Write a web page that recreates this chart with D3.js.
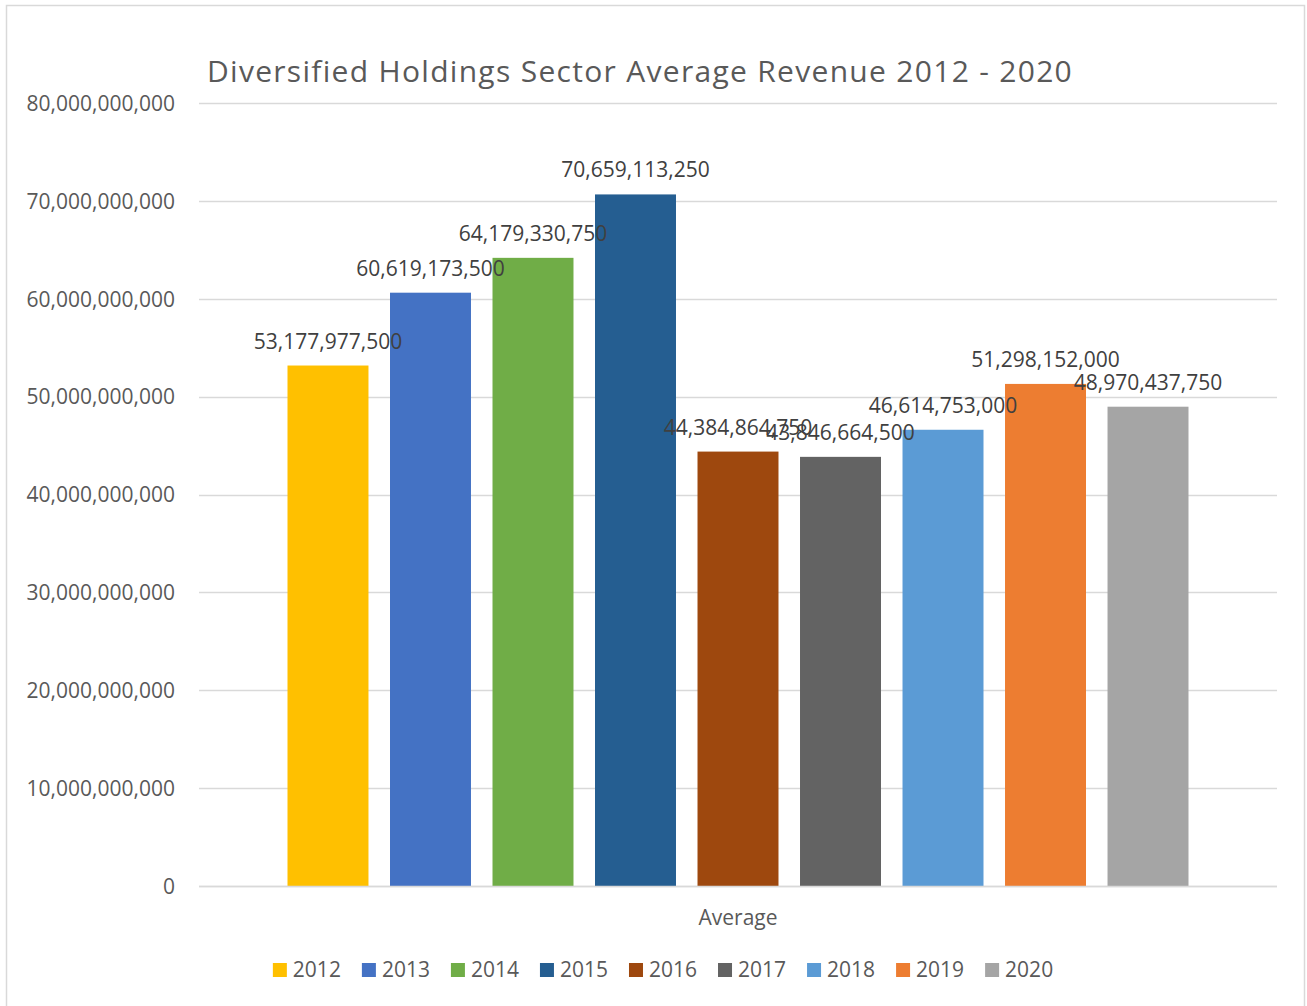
<!DOCTYPE html>
<html>
<head>
<meta charset="utf-8">
<title>Diversified Holdings Sector Average Revenue 2012 - 2020</title>
<script src="https://cdn.jsdelivr.net/npm/d3@7"></script>
<style>
  html, body { margin: 0; padding: 0; background: #ffffff; }
  svg { display: block; }
  text { font-family: "Open Sans", "Noto Sans", sans-serif; }
</style>
</head>
<body>
<svg id="chart" width="1307" height="1006"></svg>
<script>
// Years shown, one bar each, in the single "Average" category
const years = ["2012", "2013", "2014", "2015", "2016", "2017", "2018", "2019", "2020"];
const revenues = [53177977500, 60619173500, 64179330750, 70659113250, 44384864750, 43846664500, 46614753000, 51298152000, 48970437750];
const barColors = ["#FFC000", "#4472C4", "#70AD47", "#255E91", "#9E480E", "#636363", "#5B9BD5", "#ED7D31", "#A5A5A5"];
const yTicks = [0, 10000000000, 20000000000, 30000000000, 40000000000, 50000000000, 60000000000, 70000000000, 80000000000];
const categoryLabel = "Average";
const chartTitle = "Diversified Holdings Sector Average Revenue 2012 - 2020";

const W = 1307, H = 1006;
const plot = { left: 199, right: 1277, top: 103, bottom: 886 };

const svg = d3.select("#chart");
const fmt = d3.format(",");

// Outer frame
svg.append("rect")
  .attr("x", 6.5).attr("y", 5.5)
  .attr("width", 1298).attr("height", 1010)
  .attr("fill", "#ffffff")
  .attr("stroke", "#d9d9d9").attr("stroke-width", 1.5);

// Title
svg.append("text")
  .attr("x", 640).attr("y", 82)
  .attr("text-anchor", "middle")
  .attr("font-size", 30)
  .attr("letter-spacing", 1.3)
  .attr("fill", "#595959")
  .text(chartTitle);

const y = d3.scaleLinear().domain([0, 80000000000]).range([plot.bottom, plot.top]);

// Single category band, years clustered inside it
const cat = d3.scaleBand().domain([categoryLabel]).range([plot.left, plot.right]).paddingInner(0).paddingOuter(0);
const clusterInset = 88.5;
const x = d3.scaleBand()
  .domain(years)
  .range([cat(categoryLabel) + clusterInset, cat(categoryLabel) + cat.bandwidth() - clusterInset])
  .paddingInner(0.21)
  .paddingOuter(0);

// Gridlines
svg.append("g")
  .selectAll("line")
  .data(yTicks)
  .join("line")
  .attr("x1", plot.left).attr("x2", plot.right)
  .attr("y1", d => Math.round(y(d)) + 0.5).attr("y2", d => Math.round(y(d)) + 0.5)
  .attr("stroke", "#d9d9d9").attr("stroke-width", 1.5);

// Y axis labels
const yAxis = d3.axisLeft(y).tickValues(yTicks).tickFormat(fmt).tickSize(0).tickPadding(0);
const yg = svg.append("g")
  .attr("transform", `translate(175,0)`)
  .call(yAxis);
yg.select(".domain").remove();
yg.selectAll("text")
  .attr("font-family", "'Open Sans', sans-serif")
  .attr("font-size", 21)
  .attr("fill", "#595959")
  .attr("dy", "0.35em");

// Bars
const data = years.map((yr, i) => ({ year: yr, value: revenues[i], color: barColors[i] }));
svg.append("g")
  .selectAll("rect")
  .data(data)
  .join("rect")
  .attr("x", d => x(d.year))
  .attr("width", x.bandwidth())
  .attr("y", d => y(d.value))
  .attr("height", d => y(0) - y(d.value))
  .attr("fill", d => d.color);

// Baseline redrawn on top of bars
svg.append("line")
  .attr("x1", plot.left).attr("x2", plot.right)
  .attr("y1", Math.round(y(0)) + 0.5).attr("y2", Math.round(y(0)) + 0.5)
  .attr("stroke", "#d9d9d9").attr("stroke-width", 1.5);

// Value labels
svg.append("g")
  .selectAll("text")
  .data(data)
  .join("text")
  .attr("x", d => x(d.year) + x.bandwidth() / 2)
  .attr("y", d => y(d.value) - 17)
  .attr("text-anchor", "middle")
  .attr("font-size", 21)
  .attr("fill", "#404040")
  .text(d => fmt(d.value));

// Category label
svg.append("text")
  .attr("x", cat(categoryLabel) + cat.bandwidth() / 2)
  .attr("y", 925)
  .attr("text-anchor", "middle")
  .attr("font-size", 21)
  .attr("fill", "#595959")
  .text(categoryLabel);

// Legend
const legend = svg.append("g");
const items = legend.selectAll("g")
  .data(data)
  .join("g");
items.append("rect")
  .attr("width", 14).attr("height", 14)
  .attr("y", -14)
  .attr("fill", d => d.color);
items.append("text")
  .attr("x", 20)
  .attr("y", 0)
  .attr("font-size", 21)
  .attr("fill", "#595959")
  .text(d => d.year);

const gap = 21;
const widths = [];
items.each(function () {
  widths.push(20 + this.querySelector("text").getComputedTextLength());
});
const total = d3.sum(widths) + gap * (widths.length - 1);
let cursor = 663 - total / 2;
items.attr("transform", (d, i) => {
  const t = `translate(${cursor},977)`;
  cursor += widths[i] + gap;
  return t;
});
</script>
</body>
</html>
